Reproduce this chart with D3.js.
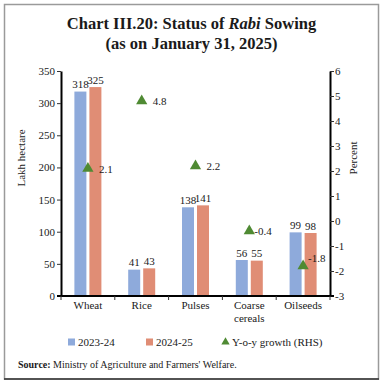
<!DOCTYPE html>
<html>
<head>
<meta charset="utf-8">
<script src="https://cdn.jsdelivr.net/npm/d3@7"></script>
<style>
  html, body { margin: 0; padding: 0; background: #fff; }
  svg text { font-family: "Liberation Serif", "DejaVu Serif", serif; fill: #1a1a1a; }
</style>
</head>
<body>
<svg id="chart" width="383" height="385"></svg>
<script>
const categories = ["Wheat", "Rice", "Pulses", "Coarse cereals", "Oilseeds"];
const series = ["2023-24", "2024-25"];
const values2324 = [318, 41, 138, 56, 99];
const values2425 = [325, 43, 141, 55, 98];
const growth = [2.1, 4.8, 2.2, -0.4, -1.8];
const leftTicks = [0, 50, 100, 150, 200, 250, 300, 350];
const rightTicks = [-3, -2, -1, 0, 1, 2, 3, 4, 5, 6];
const colors = ["#8eaadb", "#e08d75"];
const green = "#4f8a33";

const svg = d3.select("#chart");
const m = { left: 61, right: 330, top: 71, bottom: 296 };

// frame
svg.append("rect").attr("x", 4.5).attr("y", 4.5).attr("width", 374).attr("height", 374.5)
  .attr("fill", "none").attr("stroke", "#9a9a9a").attr("stroke-width", 1.5);
svg.append("line").attr("x1", 4).attr("x2", 379).attr("y1", 379).attr("y2", 379)
  .attr("stroke", "#333").attr("stroke-width", 1.5);

// title
svg.append("text").attr("x", 191.5).attr("y", 29).attr("text-anchor", "middle")
  .style("font-size", "16.5px").style("font-weight", "bold")
  .call(t => {
    t.append("tspan").text("Chart III.20: Status of ");
    t.append("tspan").style("font-style", "italic").text("Rabi");
    t.append("tspan").text(" Sowing");
  });
svg.append("text").attr("x", 191.5).attr("y", 49).attr("text-anchor", "middle")
  .style("font-size", "16.5px").style("font-weight", "bold")
  .text("(as on January 31, 2025)");

const x = d3.scaleBand().domain(categories).range([m.left, m.right]).paddingInner(0).paddingOuter(0);
const groupW = 27;
const xs = d3.scaleBand().domain(series).range([0, groupW]).paddingInner(0.2).paddingOuter(0);
const yL = d3.scaleLinear().domain([0, 350]).range([m.bottom, m.top]);
const yR = d3.scaleLinear().domain([-3, 6]).range([m.bottom, m.top]);

const data = categories.map((c, i) => ({ c, vals: [values2324[i], values2425[i]], g: growth[i] }));

// bars
const grp = svg.append("g").selectAll("g").data(data).join("g")
  .attr("transform", d => `translate(${x(d.c) + (x.bandwidth() - groupW) / 2},0)`);
grp.selectAll("rect").data(d => d.vals.map((v, j) => ({ v, s: series[j], j }))).join("rect")
  .attr("x", d => xs(d.s)).attr("width", xs.bandwidth())
  .attr("y", d => yL(d.v)).attr("height", d => yL(0) - yL(d.v))
  .attr("fill", d => colors[d.j]);
grp.selectAll("text").data(d => d.vals.map((v, j) => ({ v, s: series[j], j }))).join("text")
  .attr("x", d => xs(d.s) + xs.bandwidth() / 2).attr("y", d => yL(d.v) - 3.5)
  .attr("text-anchor", "middle").style("font-size", "11px").text(d => d.v);

// axes
const axisStyle = g => {
  g.selectAll("path.domain").attr("stroke", "#000").attr("stroke-width", 2);
  g.selectAll(".tick line").attr("stroke", "#333");
  g.selectAll(".tick text").style("font-size", "11px").attr("fill", "#1a1a1a")
    .style("font-family", "Liberation Serif, serif");
};
svg.append("g").attr("transform", `translate(${m.left},0)`)
  .call(d3.axisLeft(yL).tickValues(leftTicks).tickSize(4).tickSizeOuter(0).tickPadding(2))
  .call(axisStyle);
svg.append("g").attr("transform", `translate(${m.right},0)`)
  .call(d3.axisRight(yR).tickValues(rightTicks).tickSize(4).tickSizeOuter(0).tickPadding(1)
    .tickFormat(d => String(d)))
  .call(axisStyle);

// bottom axis
const bx = svg.append("g").attr("transform", `translate(0,${m.bottom})`);
bx.append("line").attr("x1", m.left - 4).attr("x2", m.right + 4).attr("stroke", "#000").attr("stroke-width", 2);
const bounds = categories.map(c => x(c)).concat([m.right]);
bx.selectAll("line.tk").data(bounds).join("line").attr("class", "tk")
  .attr("x1", d => d).attr("x2", d => d).attr("y1", 0).attr("y2", 4)
  .attr("stroke", "#333");
bx.selectAll("text").data(categories).join("text")
  .attr("x", d => x(d) + x.bandwidth() / 2).attr("y", 13)
  .attr("text-anchor", "middle").style("font-size", "11px")
  .each(function (d) {
    const words = d.split(" ");
    const t = d3.select(this);
    words.forEach((w, i) => t.append("tspan").attr("x", x(d) + x.bandwidth() / 2).attr("dy", i ? 12.5 : 0).text(w));
  });

// axis titles
svg.append("text").attr("transform", "translate(25,158) rotate(-90)").attr("text-anchor", "middle")
  .style("font-size", "11px").text("Lakh hectare");
svg.append("text").attr("transform", "translate(357,158) rotate(-90)").attr("text-anchor", "middle")
  .style("font-size", "11px").text("Percent");

// growth triangles
const tri = d3.symbol().type(d3.symbolTriangle).size(55);
const gp = svg.append("g").selectAll("g").data(data).join("g")
  .attr("transform", d => `translate(${x(d.c) + x.bandwidth() / 2},${yR(d.g)})`);
gp.append("path").attr("d", tri).attr("fill", green);
gp.append("text")
  .attr("x", d => d.g < 0 ? 5 : 11)
  .attr("y", d => d.c === "Oilseeds" ? -4 : 4)
  .style("font-size", "11px")
  .text(d => d.g.toFixed(1));

// legend
const ly = 342;
const leg = svg.append("g");
const legItems = [
  { label: "2023-24", x: 68, type: "rect", color: colors[0] },
  { label: "2024-25", x: 146, type: "rect", color: colors[1] },
  { label: "Y-o-y growth (RHS)", x: 222, type: "tri", color: green }
];
legItems.forEach(it => {
  if (it.type === "rect") {
    leg.append("rect").attr("x", it.x).attr("y", ly - 3.5).attr("width", 7).attr("height", 7).attr("fill", it.color);
  } else {
    leg.append("path").attr("d", d3.symbol().type(d3.symbolTriangle).size(30)())
      .attr("transform", `translate(${it.x + 3.5},${ly})`).attr("fill", it.color);
  }
  leg.append("text").attr("x", it.x + 10).attr("y", ly + 4).style("font-size", "11px").text(it.label);
});

// source
svg.append("text").attr("x", 18).attr("y", 368).style("font-size", "10px")
  .call(t => {
    t.append("tspan").style("font-weight", "bold").text("Source:");
    t.append("tspan").text(" Ministry of Agriculture and Farmers' Welfare.");
  });
</script>
</body>
</html>
